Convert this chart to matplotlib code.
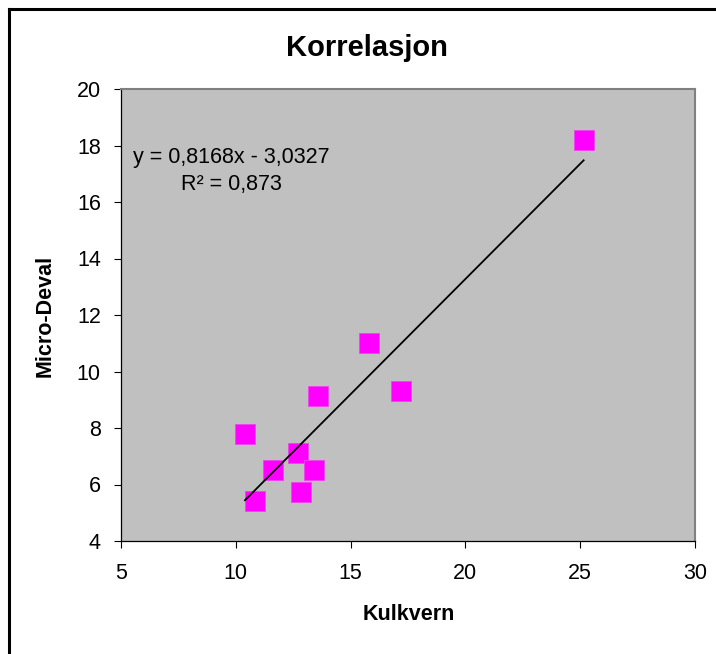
import numpy as np
import matplotlib
matplotlib.use("Agg")
from matplotlib import pyplot as plt
from matplotlib.lines import Line2D

plt.rcParams['font.family'] = ['Liberation Sans', 'DejaVu Sans']

## Data
kulkvern = [10.4, 10.85, 11.6, 12.7, 12.85, 13.4, 13.6, 15.8, 17.2, 25.15]
micro_deval = [7.8, 5.4, 6.5, 7.1, 5.75, 6.5, 9.15, 11.0, 9.3, 18.2]
x_ticks = [5, 10, 15, 20, 25, 30]
y_ticks = [4, 6, 8, 10, 12, 14, 16, 18, 20]
eq_text = 'y = 0,8168x - 3,0327\nR² = 0,873'

W, H = 716, 654
fig = plt.figure(figsize=(W / 100, H / 100), dpi=100)
fig.patch.set_facecolor('white')

l, r, t, b = 121, 695, 89, 541
ax = fig.add_axes([l / W, 1 - b / H, (r - l) / W, (b - t) / H])
ax.set_facecolor('#C0C0C0')

ax.scatter(kulkvern, micro_deval, marker='s', s=228, color='#FF00FF',
           edgecolor='#EE44EE', linewidth=0.6, zorder=2)

# linear trend line over the data range
k, m = np.polyfit(kulkvern, micro_deval, 1)
xx = np.array([min(kulkvern), max(kulkvern)])
ax.plot(xx, k * xx + m, color='black', lw=1.3, zorder=3)

ax.text((231 - l) / (r - l), (b - 171) / (b - t), eq_text, transform=ax.transAxes,
        ha='center', va='center', multialignment='center', fontsize=15.5,
        linespacing=1.4, color='black')

ax.set_xlim(5, 30)
ax.set_ylim(4, 20)
ax.set_xticks(x_ticks)
ax.set_yticks(y_ticks)
ax.tick_params(direction='out', length=5, width=0.8, labelsize=15.5,
               colors='black')
ax.tick_params(axis='x', pad=10.5)
ax.tick_params(axis='y', pad=9.5)

for s in ['left', 'bottom']:
    ax.spines[s].set_color('black')
    ax.spines[s].set_linewidth(0.9)
for s in ['top', 'right']:
    ax.spines[s].set_color('#808080')
    ax.spines[s].set_linewidth(1.5)

ax.set_xlabel('Kulkvern', fontsize=15.5, fontweight='bold')
ax.set_ylabel('Micro-Deval', fontsize=15.5, fontweight='bold')
ax.xaxis.label.set_va('center')
ax.yaxis.label.set_va('center')
ax.xaxis.set_label_coords((409 - l) / (r - l), (b - 614) / (b - t))
ax.yaxis.set_label_coords((45 - l) / (r - l), (b - 316) / (b - t))

fig.text(367 / W, 1 - 48 / H, 'Korrelasjon', ha='center', va='center',
         fontsize=21, fontweight='bold')

# chart frame, only top and left edges are visible
fig.add_artist(Line2D([8.5 / W, 8.5 / W], [0, 1 - 8.5 / H], transform=fig.transFigure,
                      color='black', lw=2.2, solid_capstyle='projecting'))
fig.add_artist(Line2D([8.5 / W, 1], [1 - 8.5 / H, 1 - 8.5 / H], transform=fig.transFigure,
                      color='black', lw=2.2, solid_capstyle='projecting'))

plt.savefig('out.png', dpi=100)
